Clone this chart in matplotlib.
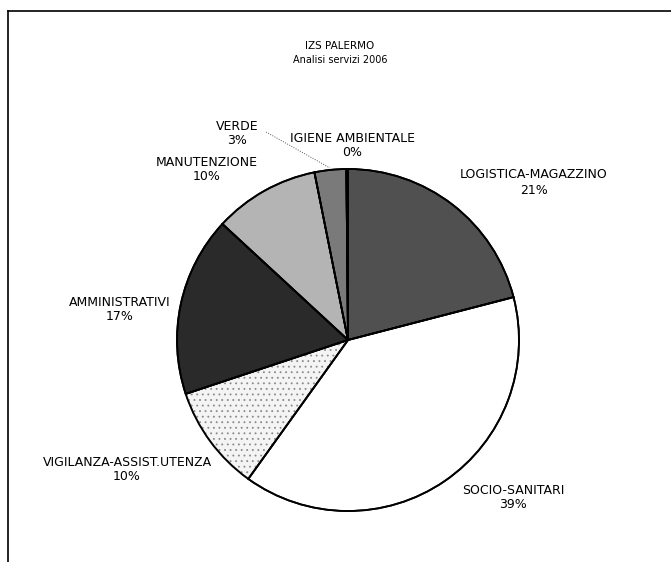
import matplotlib.pyplot as plt
from matplotlib.lines import Line2D

# data (clockwise from 12 o'clock)
labels = ['LOGISTICA-MAGAZZINO', 'SOCIO-SANITARI', 'VIGILANZA-ASSIST.UTENZA',
          'AMMINISTRATIVI', 'MANUTENZIONE', 'VERDE', 'IGIENE AMBIENTALE']
values = [21, 39, 10, 17, 10, 3, 0.15]
pct_text = ['21%', '39%', '10%', '17%', '10%', '3%', '0%']
colors = ['#505050', '#ffffff', '#f4f4f4', '#2a2a2a', '#b4b4b4', '#7a7a7a', '#dcdcdc']

# label anchors in pixels (x, y of first line, from top)
label_pos = [(534, 175), (513, 490), (127, 462), (120, 302), (207, 162), (237, 126), (352, 138)]

W, H = 671, 562
plt.rcParams['hatch.linewidth'] = 0.6
fig = plt.figure(figsize=(W / 100, H / 100), dpi=100)
ax = fig.add_axes([0, 0, 1, 1])

wedges, _ = ax.pie(values, colors=colors, startangle=90, counterclock=False,
                   center=(348, H - 340), radius=171,
                   wedgeprops=dict(edgecolor='black', linewidth=1.3))
wedges[2].set_hatch('...')
wedges[2].set_edgecolor('#8a8a8a')
# black outlines on top of the hatched one
ax.pie(values, startangle=90, counterclock=False,
       center=(348, H - 340), radius=171,
       wedgeprops=dict(edgecolor='black', linewidth=1.3, fill=False))

# pie() resets the limits, so set them afterwards
ax.set_xlim(0, W)
ax.set_ylim(0, H)
ax.set_aspect('equal')
ax.axis('off')

# frame of the scanned page: top and left edges only
ax.add_line(Line2D([8, W], [H - 11, H - 11], color='black', linewidth=1.2))
ax.add_line(Line2D([8, 8], [0, H - 11], color='black', linewidth=1.2))

ax.text(340, H - 46, 'IZS PALERMO', ha='center', va='center', fontsize=7.5)
ax.text(340, H - 60, 'Analisi servizi 2006', ha='center', va='center', fontsize=7)

for (x, y), name, p in zip(label_pos, labels, pct_text):
    ax.text(x, H - y, name, ha='center', va='center', fontsize=9)
    ax.text(x, H - y - 15, p, ha='center', va='center', fontsize=9)

# leader line from VERDE
ax.plot([266, 330], [H - 132, H - 168], color='#555555', linewidth=0.7, linestyle=(0, (1, 1.5)))

fig.savefig('out.png', dpi=100)
